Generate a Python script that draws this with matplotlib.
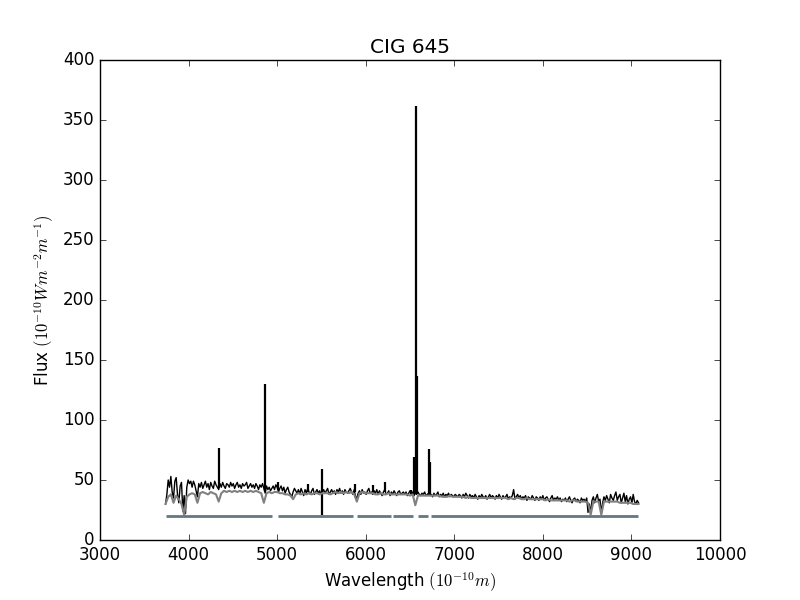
import numpy as np
import matplotlib
matplotlib.use("Agg")
import matplotlib.pyplot as plt

plt.style.use("classic")

# sampled wavelengths (Angstrom)
wave_obs = np.arange(3740, 9081, 15)
wave_mod = np.arange(3740, 9081, 30)

obs = [30, 38, 50, 44, 53, 40, 35, 49, 52, 38, 31, 45, 48, 24, 37, 22, 44, 50, 47, 49,
       44, 49, 46, 41, 36, 47, 44, 48, 43, 46, 49, 44, 47, 42, 48, 45, 43, 49, 46, 44,
       42, 47, 44, 48, 45, 43, 47, 46, 44, 48, 45, 47, 43, 46, 48, 44, 46, 43, 47, 45,
       46, 48, 43, 45, 47, 44, 46, 43, 47, 45, 42, 46, 44, 47, 43, 39, 45, 42, 44, 41,
       43, 45, 42, 46, 44, 40, 43, 45, 41, 44, 39, 42, 44, 40, 38, 36, 40, 43, 41, 39,
       42, 38, 43, 40, 37, 42, 39, 43, 40, 38, 41, 43, 38, 40, 42, 39, 41, 38, 40, 42,
       39, 41, 43, 38, 40, 42, 39, 41, 38, 42, 40, 43, 39, 41, 38, 42, 40, 39, 41, 43,
       40, 38, 42, 36, 35, 39, 41, 38, 42, 39, 40, 38, 41, 43, 39, 40, 38, 41, 39, 42,
       38, 41, 39, 37, 40, 42, 38, 39, 41, 37, 40, 38, 41, 39, 37, 40, 41, 38, 39, 40,
       38, 40, 37, 39, 41, 38, 40, 37, 39, 38, 40, 38, 37, 39, 38, 40, 37, 38, 39, 37,
       38, 36, 39, 37, 38, 40, 36, 38, 37, 39, 36, 38, 37, 39, 36, 38, 37, 36, 38, 37,
       36, 38, 37, 35, 38, 36, 39, 37, 35, 38, 36, 37, 35, 38, 36, 34, 37, 35, 38, 36,
       35, 37, 34, 36, 38, 35, 37, 36, 34, 37, 35, 38, 36, 34, 37, 35, 36, 38, 34, 36,
       35, 37, 42, 34, 36, 38, 35, 37, 34, 36, 35, 37, 33, 36, 35, 34, 37, 35, 33, 36,
       35, 33, 36, 34, 37, 33, 35, 36, 34, 32, 35, 37, 33, 35, 34, 36, 33, 35, 32, 34,
       33, 35, 32, 34, 36, 33, 31, 34, 35, 32, 34, 33, 31, 35, 33, 34, 32, 35, 23, 30,
       22, 33, 36, 31, 35, 38, 32, 34, 22, 31, 36, 33, 37, 34, 31, 38, 35, 33, 37, 40,
       33, 36, 38, 31, 35, 39, 32, 37, 30, 34, 36, 31, 38, 32, 30, 33, 31]

# stellar population model (30 A steps)
model = [30, 36, 38, 31, 37, 34, 30, 21, 36, 38,
         39, 38, 31, 39, 40, 39, 38, 40, 39, 38,
         32, 39, 41, 40, 41, 40, 41, 40, 41, 40,
         41, 40, 41, 40, 41, 40, 39, 31, 39, 40,
         39, 40, 40, 39, 39, 38, 38, 37, 34, 38,
         39, 38, 39, 38, 39, 38, 39, 39, 38, 39,
         39, 39, 38, 39, 40, 39, 40, 39, 40, 39,
         40, 38, 32, 39, 40, 39, 39, 39, 39, 38,
         38, 39, 38, 38, 39, 38, 38, 38, 38, 38,
         38, 38, 37, 38, 29, 37, 37, 37, 37, 37,
         37, 37, 37, 37, 36, 36, 36, 37, 36, 36,
         36, 36, 36, 35, 36, 35, 35, 35, 35, 35,
         35, 35, 35, 35, 35, 35, 35, 35, 35, 34,
         35, 34, 35, 35, 34, 34, 35, 34, 34, 34,
         34, 34, 34, 33, 34, 33, 33, 33, 33, 33,
         33, 33, 32, 33, 33, 32, 32, 32, 32, 31,
         21, 32, 32, 32, 21, 32, 32, 32, 32, 32,
         32, 31, 31, 31, 31, 31, 30, 30, 30]

# emission lines: position, base and peak
line_wave = [4340, 4861, 5007, 5348, 5505, 5879, 6083, 6218, 6508,
             6548, 6563, 6584, 6717, 6731]
line_base = [43, 41, 42, 40, 21, 40, 40, 40, 38, 38, 38, 38, 37, 37]
line_peak = [77, 130, 48, 47, 59, 47, 46, 48, 42, 69, 362, 137, 76, 65]

# good-pixel mask segments
mask_start = [3745, 5013, 5905, 6312, 6594, 6737]
mask_end = [4939, 5860, 6282, 6537, 6703, 9071]

fig = plt.figure(figsize=(8, 6), dpi=100, facecolor="white")
ax = fig.add_subplot(111)

ax.plot(wave_obs, obs, color="black", lw=1.0)
ax.vlines(line_wave, line_base, line_peak, color="black", lw=1.6)
ax.plot(wave_mod, model, color="#808080", lw=1.5)
ax.hlines([20] * len(mask_start), mask_start, mask_end, color="#647880", lw=2)

ax.set_xlim(3000, 10000)
ax.set_ylim(0, 400)
ax.set_xticks(np.arange(3000, 10001, 1000))
ax.set_yticks(np.arange(0, 401, 50))
ax.set_title("CIG 645")
ax.set_xlabel(r"Wavelength $(10^{-10}m)$")
ax.set_ylabel(r"Flux $(10^{-10}Wm^{-2}m^{-1})$")

fig.savefig("out.png", dpi=100, facecolor="white")
